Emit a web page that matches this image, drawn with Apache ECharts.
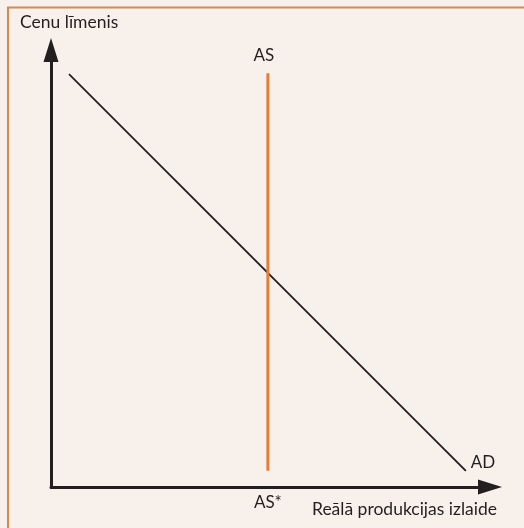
<!DOCTYPE html>
<html>
<head>
<meta charset="utf-8">
<script src="https://cdn.jsdelivr.net/npm/echarts@6/dist/echarts.min.js"></script>
<style>
  html, body { margin: 0; padding: 0; background: #f8f1eb; }
  #chart { width: 524px; height: 528px; }
</style>
</head>
<body>
<div id="chart"></div>
<script>
    // curves, axes run 0..100
    var adPoints = [[4.1, 94.5], [94.5, 3.7]];
    var asPoints = [[49.4, 3.7], [49.4, 94.7]];
    var asTick = [49.4];
    var yTitle = 'Cenu līmenis';
    var xTitle = 'Reālā produkcijas izlaide';

    var ink = '#231f20';
    var font = 'Lato, "Open Sans", sans-serif';

    var chart = echarts.init(document.getElementById('chart'));

    function pointLabel(points, idx, text, label) {
        return points.map(function (p, i) {
            if (i !== idx) return p;
            return {value: p, label: Object.assign({show: true, formatter: text, color: ink, fontSize: 17, fontFamily: font}, label)};
        });
    }

    var option = {
        backgroundColor: '#f8f1eb',
        animation: false,
        grid: {left: 51, right: 34, top: 50, bottom: 41},
        xAxis: {
            type: 'value',
            min: 0,
            max: 100,
            splitLine: {show: false},
            axisTick: {show: false},
            axisLine: {
                show: true,
                symbol: ['none', 'triangle'],
                symbolSize: [15, 24],
                lineStyle: {color: ink, width: 3}
            },
            axisLabel: {
                customValues: asTick,
                formatter: function () { return 'AS*'; },
                margin: 7,
                color: ink,
                fontSize: 17,
                fontFamily: font
            }
        },
        yAxis: {
            type: 'value',
            min: 0,
            max: 100,
            splitLine: {show: false},
            axisTick: {show: false},
            axisLabel: {show: false},
            axisLine: {
                show: true,
                symbol: ['none', 'triangle'],
                symbolSize: [15, 24],
                lineStyle: {color: ink, width: 3}
            }
        },
        graphic: [
            {type: 'rect', z: 100, silent: true, shape: {x: 8, y: 7.5, width: 700, height: 700},
             style: {fill: null, stroke: '#d4894d', lineWidth: 2}},
            {type: 'text', x: 20, y: 22, silent: true,
             style: {text: yTitle, fill: ink, font: '17.5px ' + font, textAlign: 'left', textVerticalAlign: 'middle'}},
            {type: 'text', x: 497, y: 509, silent: true,
             style: {text: xTitle, fill: ink, font: '17.5px ' + font, textAlign: 'right', textVerticalAlign: 'middle'}}
        ],
        series: [
            {
                name: 'AD',
                type: 'line',
                symbol: 'circle',
                symbolSize: 0,
                lineStyle: {color: ink, width: 1.8},
                itemStyle: {color: ink},
                data: pointLabel(adPoints, 1, 'AD', {position: 'right', distance: 5, offset: [0, -8]})
            },
            {
                name: 'AS',
                type: 'line',
                symbol: 'circle',
                symbolSize: 0,
                lineStyle: {color: '#e47d3e', width: 3},
                itemStyle: {color: '#e47d3e'},
                data: pointLabel(asPoints, 1, 'AS', {position: 'top', distance: 9, offset: [-4, 0]})
            }
        ]
    };

    chart.setOption(option);
</script>
</body>
</html>
